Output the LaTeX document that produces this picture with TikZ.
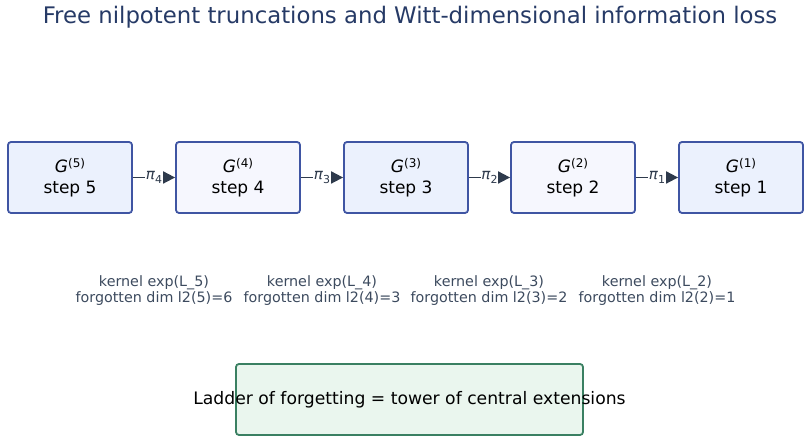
\documentclass[tikz,border=0pt]{standalone}
\usepackage{fontspec}
\setmainfont{DejaVu Sans}
\usetikzlibrary{arrows.meta}
\definecolor{titlec}{HTML}{263A66}
\definecolor{boxedge}{HTML}{3F55A3}
\definecolor{fillA}{HTML}{EBF1FD}
\definecolor{fillB}{HTML}{F6F7FE}
\definecolor{greenedge}{HTML}{3A8062}
\definecolor{greenfill}{HTML}{EAF6EE}
\definecolor{kertext}{HTML}{3C4A5E}
\definecolor{arrowc}{HTML}{2E3A4C}
\tikzset{
  stepbox/.style={draw=boxedge, line width=1.8pt, rounded corners=3pt,
    minimum width=124pt, minimum height=71pt, inner sep=0pt, align=center,
    font=\fontsize{17}{21}\selectfont},
  kerlabel/.style={text=kertext, align=center, font=\fontsize{14.3}{16}\selectfont, inner sep=0pt},
  proj/.style={draw=arrowc, line width=1.8pt, -{Triangle[length=12pt,width=12pt]}},
  projlabel/.style={fill=white, inner sep=0.8pt, text=arrowc, font=\fontsize{15}{16}\selectfont}
}
\newcommand{\Gsup}[1]{{\itshape G}\raisebox{0.55ex}{\fontsize{12}{12}\selectfont(#1)}}
\newcommand{\pisub}[1]{{\itshape π}\raisebox{-0.45ex}{\fontsize{11}{11}\selectfont #1}}
\begin{document}
\begin{tikzpicture}[x=1pt,y=1pt]
\useasboundingbox (0,0) rectangle (811,443);
\node[text=titlec, font=\fontsize{22.8}{26}\selectfont, anchor=base, inner sep=0pt] (title) at (410,419) {Free nilpotent truncations and Witt-dimensional information loss};
\node[stepbox, fill=fillA] (g5) at (70,265.5) {\Gsup{5}\\step 5};
\node[stepbox, fill=fillB] (g4) at (238,265.5) {\Gsup{4}\\step 4};
\node[stepbox, fill=fillA] (g3) at (406,265.5) {\Gsup{3}\\step 3};
\node[stepbox, fill=fillB] (g2) at (573,265.5) {\Gsup{2}\\step 2};
\node[stepbox, fill=fillA] (g1) at (741,265.5) {\Gsup{1}\\step 1};
\draw[proj] (g5) -- node[projlabel] (p4) {\pisub{4}} (g4);
\draw[proj] (g4) -- node[projlabel] (p3) {\pisub{3}} (g3);
\draw[proj] (g3) -- node[projlabel] (p2) {\pisub{2}} (g2);
\draw[proj] (g2) -- node[projlabel] (p1) {\pisub{1}} (g1);
\node[kerlabel] (k5) at (154,152) {kernel exp(L\_5)\\forgotten dim l2(5)=6};
\node[kerlabel] (k4) at (322,152) {kernel exp(L\_4)\\forgotten dim l2(4)=3};
\node[kerlabel] (k3) at (489,152) {kernel exp(L\_3)\\forgotten dim l2(3)=2};
\node[kerlabel] (k2) at (657,152) {kernel exp(L\_2)\\forgotten dim l2(2)=1};
\node[draw=greenedge, fill=greenfill, line width=1.8pt, rounded corners=3pt,
  minimum width=347pt, minimum height=71pt, inner sep=0pt] (ladderbox) at (409.5,43.5) {};
\node[font=\fontsize{17.2}{21}\selectfont, inner sep=0pt] (ladder) at (ladderbox.center) {Ladder of forgetting = tower of central extensions};
\end{tikzpicture}
\end{document}
